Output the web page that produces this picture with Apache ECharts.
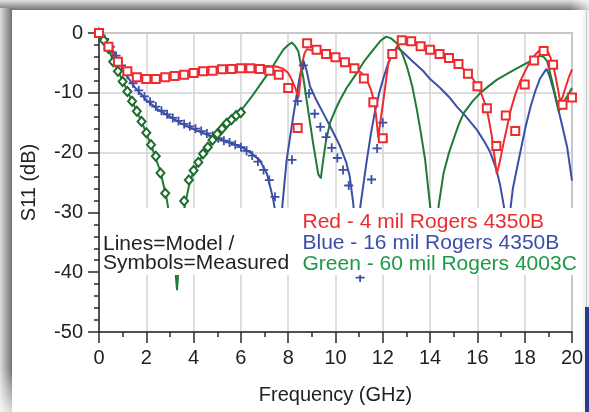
<!DOCTYPE html>
<html><head><meta charset="utf-8">
<script src="https://cdn.jsdelivr.net/npm/echarts@6.0.0/dist/echarts.min.js"></script>
<style>html,body{margin:0;padding:0;background:#fff}#c{width:589px;height:412px}</style>
</head><body><div id="c"></div>
<script>
// ---- data (frequency GHz, S11 dB) ----
const redModel = [[0,0],[0.3,-1.6],[0.6,-3.6],[0.9,-5.4],[1.2,-6.6],[1.5,-7.3],[2.0,-7.7],[2.5,-7.7],[3.0,-7.4],[3.5,-7.0],[4.0,-6.7],[4.5,-6.3],[5.0,-6.0],[5.5,-5.8],[6.0,-5.65],[6.5,-5.55],[7.0,-5.5],[7.5,-5.6],[7.8,-6.0],[8.0,-6.7],[8.15,-7.8],[8.3,-9.2],[8.43,-10.8],[8.5,-8.5],[8.57,-5.3],[8.7,-3.3],[8.8,-2.7],[9.2,-3.1],[9.6,-3.6],[10.0,-4.2],[10.4,-4.9],[10.8,-5.7],[11.1,-6.7],[11.3,-7.6],[11.5,-9.5],[11.64,-11.6],[11.72,-14.0],[11.81,-17.5],[11.9,-14.8],[12.0,-12.0],[12.1,-9.0],[12.24,-4.9],[12.45,-3.3],[12.6,-2.3],[12.8,-1.4],[13.0,-1.2],[13.3,-1.4],[13.7,-2.3],[14.0,-2.9],[14.5,-3.6],[15.0,-4.7],[15.5,-6.3],[15.8,-7.6],[16.0,-8.8],[16.2,-10.5],[16.4,-12.7],[16.6,-17.0],[16.75,-21.5],[16.82,-23.6],[16.95,-21.5],[17.1,-18.5],[17.25,-15.8],[17.4,-13.0],[17.6,-10.3],[17.8,-8.2],[18.0,-6.5],[18.2,-5.0],[18.45,-3.6],[18.6,-3.0],[18.8,-2.7],[19.0,-3.3],[19.1,-4.2],[19.23,-5.8],[19.35,-8.2],[19.5,-11.4],[19.6,-10.8],[19.72,-9.2],[19.85,-7.6],[20.0,-6.1]];

const redMeasured = [[0,0],[0.4,-2.3],[0.8,-4.8],[1.2,-6.4],[1.6,-7.4],[2.0,-7.7],[2.4,-7.7],[2.8,-7.4],[3.2,-7.2],[3.6,-7.0],[4.0,-6.7],[4.4,-6.4],[4.8,-6.3],[5.2,-6.05],[5.6,-6.0],[6.0,-5.9],[6.4,-5.9],[6.8,-6.0],[7.2,-6.3],[7.6,-7.0],[8.0,-9.2],[8.4,-15.9],[8.8,-1.7],[9.2,-2.8],[9.6,-3.5],[10.0,-4.05],[10.4,-4.9],[10.8,-5.9],[11.2,-7.6],[11.6,-11.6],[12.0,-17.6],[12.4,-3.5],[12.8,-1.2],[13.2,-1.4],[13.6,-2.2],[14.0,-2.8],[14.4,-3.5],[14.8,-4.2],[15.2,-5.2],[15.6,-6.8],[16.0,-8.9],[16.4,-12.6],[16.8,-18.9],[17.2,-13.8],[17.6,-16.4],[18.0,-8.6],[18.4,-4.6],[18.8,-3.0],[19.2,-5.3],[19.6,-12.0],[20.0,-10.8]];

const blueModel = [[0,0],[0.3,-1.3],[0.6,-3.0],[0.9,-5.2],[1.2,-7.3],[1.5,-9.0],[2.0,-11.2],[2.5,-12.8],[3.0,-14.0],[3.5,-15.2],[4.0,-16.1],[4.5,-16.9],[5.0,-17.6],[5.5,-18.3],[6.0,-19.0],[6.4,-20.0],[6.8,-21.3],[7.1,-23.5],[7.35,-27.5],[7.55,-32],[7.65,-36],[7.75,-29],[7.93,-21.4],[8.14,-15.8],[8.36,-10.3],[8.5,-7.0],[8.65,-4.7],[8.78,-6.3],[8.92,-8.9],[9.2,-11.3],[9.48,-13.4],[9.8,-15.8],[10.19,-18.9],[10.45,-21.6],[10.6,-23.9],[10.75,-28.5],[10.85,-34],[10.95,-36],[11.05,-29],[11.32,-21.4],[11.5,-16.8],[11.67,-13.1],[11.85,-10.0],[12.03,-7.5],[12.2,-5.4],[12.38,-3.6],[12.6,-2.4],[12.8,-3.0],[13.2,-4.5],[13.72,-6.4],[14.0,-7.7],[14.43,-9.2],[14.8,-10.7],[15.13,-12.3],[15.5,-13.9],[15.98,-16.2],[16.3,-18.2],[16.55,-20.0],[16.8,-22.8],[16.97,-25.6],[17.12,-29],[17.25,-36],[17.38,-30],[17.5,-26],[17.68,-22.5],[18.03,-15.8],[18.25,-12.3],[18.45,-9.7],[18.65,-7.6],[18.8,-6.7],[18.92,-6.0],[19.05,-7.2],[19.23,-9.7],[19.51,-14.2],[19.8,-19.2],[20.0,-24.7]];

const blueMeasured = [[0,0],[0.24,-1.0],[0.48,-2.3],[0.72,-3.8],[0.96,-5.4],[1.2,-7.0],[1.44,-8.4],[1.68,-9.6],[1.92,-10.6],[2.16,-11.5],[2.4,-12.3],[2.64,-13.0],[2.88,-13.6],[3.12,-14.2],[3.36,-14.7],[3.6,-15.2],[3.84,-15.6],[4.08,-16.0],[4.32,-16.4],[4.56,-16.8],[4.8,-17.2],[5.04,-17.6],[5.28,-18.0],[5.52,-18.3],[5.76,-18.7],[6.0,-19.1],[6.24,-19.7],[6.48,-20.5],[6.72,-21.5],[6.96,-22.9],[7.2,-24.6],[7.44,-27.4],[7.68,-32],[7.92,-33],[8.16,-21.2],[8.4,-11.4],[8.64,-5.4],[8.88,-10.1],[9.12,-13.5],[9.36,-15.7],[9.6,-17.4],[9.84,-19.2],[10.08,-20.9],[10.32,-22.9],[10.56,-25.5],[10.8,-31],[11.04,-40.9],[11.28,-32],[11.52,-24.5],[11.76,-19.3],[12.0,-15.0]];

const greenModel = [[0,0],[0.3,-1.8],[0.6,-4.6],[1.0,-8.0],[1.4,-11.4],[1.8,-14.8],[2.2,-18.7],[2.6,-23.2],[2.85,-27.5],[3.0,-31],[3.15,-36],[3.3,-43],[3.45,-34],[3.6,-29.5],[3.8,-25.6],[4.0,-23.1],[4.4,-20.3],[4.82,-18.0],[5.2,-16.1],[5.67,-14.6],[6.0,-13.0],[6.52,-10.3],[7.0,-7.6],[7.22,-6.4],[7.5,-4.6],[7.79,-2.8],[8.0,-2.0],[8.15,-1.6],[8.3,-2.2],[8.43,-3.1],[8.64,-7.5],[8.85,-13.1],[9.06,-18.6],[9.27,-23.6],[9.38,-24.3],[9.48,-21.2],[9.6,-18.0],[9.77,-15.0],[10.0,-12.8],[10.19,-11.2],[10.5,-9.0],[10.9,-6.7],[11.2,-4.8],[11.6,-2.8],[11.9,-1.3],[12.15,-0.6],[12.35,-0.9],[12.59,-1.7],[12.8,-3.2],[13.02,-5.6],[13.25,-9.0],[13.44,-12.8],[13.6,-16.5],[13.79,-21.2],[14.0,-28.9],[14.1,-33],[14.2,-36],[14.3,-32],[14.36,-28.9],[14.57,-23.4],[14.8,-20.0],[14.99,-17.8],[15.2,-15.4],[15.42,-13.4],[15.8,-11.4],[16.12,-10.05],[16.5,-8.8],[16.83,-7.8],[17.4,-6.5],[17.96,-5.3],[18.3,-4.6],[18.67,-3.8],[18.8,-4.0],[18.95,-4.7],[19.16,-8.05],[19.44,-13.1],[19.72,-11.1],[20.0,-9.2]];

const greenMeasured = [[0,0],[0.2,-1.2],[0.4,-2.6],[0.6,-4.8],[0.8,-6.4],[1.0,-8.1],[1.2,-9.8],[1.4,-11.4],[1.6,-13.1],[1.8,-14.8],[2.0,-16.7],[2.2,-18.7],[2.4,-20.6],[2.6,-23.4],[2.8,-26.8],[3.0,-33],[3.2,-38],[3.4,-34],[3.6,-28.1],[3.8,-24.6],[4.0,-23.0],[4.2,-21.6],[4.4,-20.2],[4.6,-19.1],[4.8,-17.9],[5.0,-16.9],[5.2,-16.0],[5.4,-15.1],[5.6,-14.5],[5.8,-13.8],[6.0,-13.3]];

const legendLines = ['Red - 4 mil Rogers 4350B','Blue - 16 mil Rogers 4350B','Green - 60 mil Rogers 4003C'];
const noteLines = ['Lines=Model /','Symbols=Measured'];

// ---- styles ----
const FONT = '"Liberation Sans", Arial, Helvetica, sans-serif';
const RED = '#ee2b2f', BLUE = '#3c4fa6', GREEN = '#1e7b36';
const RED_T = '#ee2b2f', BLUE_T = '#3a4ea8', GREEN_T = '#1c9a47';
const PLUS = 'path://M4,0H6V4H10V6H6V10H4V6H0V4H4Z';

const chart = echarts.init(document.getElementById('c'), null, {renderer:'canvas'});
const axisCol = '#2a2a2a';
function lineSeries(data, color){
  return {type:'line', data, showSymbol:false, symbol:'none', smooth:false, animation:false,
    lineStyle:{color, width:2}, z:3};
}
const graphics = [
  {type:'rect', z:0, silent:true, shape:{x:0,y:0,width:589,height:10},
   style:{fill:new echarts.graphic.LinearGradient(0,0,0,1,[{offset:0,color:'#e2e2e2'},{offset:1,color:'#737373'}])}},
  {type:'rect', z:0, silent:true, shape:{x:570,y:0,width:19,height:10},
   style:{fill:new echarts.graphic.LinearGradient(0,0,1,0,[{offset:0,color:'rgba(255,255,255,0)'},{offset:1,color:'rgba(255,255,255,0.7)'}])}},
  {type:'rect', z:0, silent:true, shape:{x:0,y:8,width:12,height:404},
   style:{fill:new echarts.graphic.LinearGradient(0,0,1,0,[{offset:0,color:'#dedede'},{offset:1,color:'#737373'}])}},
  {type:'rect', z:0, silent:true, shape:{x:0,y:370,width:12,height:42},
   style:{fill:new echarts.graphic.LinearGradient(0,0,0,1,[{offset:0,color:'rgba(255,255,255,0)'},{offset:1,color:'rgba(255,255,255,0.75)'}])}},
  {type:'rect', z:0, silent:true, shape:{x:583,y:10,width:6,height:402}, style:{fill:'#f3f3f3'}},
  {type:'line', z:0, silent:true, shape:{x1:586.5,y1:10,x2:586.5,y2:308}, style:{stroke:'#c4c4c4', lineWidth:1}},
  {type:'rect', z:0, silent:true, shape:{x:585,y:307,width:4,height:105}, style:{fill:'#2a3b8e'}},
  {type:'rect', z:100, silent:true, shape:{x:100.5,y:208,width:482,height:67}, style:{fill:'#ffffff'}}
];
noteLines.forEach((t,i)=>graphics.push({type:'text', z:101, silent:true,
  style:{text:t, x:103, y:234 + i*19, fontSize:21, fontFamily:FONT, fill:'#222', verticalAlign:'top', textAlign:'left'}}));
const legCols = [RED_T, BLUE_T, GREEN_T];
legendLines.forEach((t,i)=>graphics.push({type:'text', z:101, silent:true,
  style:{text:t, x:302.5, y:212 + i*20.8, fontSize:21, fontFamily:FONT, fill:legCols[i], verticalAlign:'top', textAlign:'left'}}));

chart.setOption({
  animation:false,
  backgroundColor:'#ffffff',
  grid:{left:99, right:17, top:33, bottom:80, show:true, borderColor:'#8a8a8a', borderWidth:1.5, backgroundColor:'#fff', containLabel:false},
  xAxis:{type:'value', min:0, max:20, interval:2,
    name:'Frequency (GHz)', nameLocation:'middle', nameGap:53,
    nameTextStyle:{fontSize:20, fontFamily:FONT, color:'#222', verticalAlign:'top'},
    axisLine:{show:true, onZero:false, lineStyle:{color:axisCol, width:1.5}},
    axisTick:{show:true, inside:false, length:11, lineStyle:{color:axisCol, width:1.5}},
    minorTick:{show:true, splitNumber:2, length:5, lineStyle:{color:axisCol, width:1.5}},
    splitLine:{show:true, lineStyle:{color:'#d2d2d2', width:1.5}},
    axisLabel:{fontSize:20, fontFamily:FONT, color:'#222', margin:16}},
  yAxis:{type:'value', min:-50, max:0, interval:10,
    name:'S11 (dB)', nameLocation:'middle', nameGap:60,
    nameTextStyle:{fontSize:20, fontFamily:FONT, color:'#222'},
    axisLine:{show:true, onZero:false, lineStyle:{color:axisCol, width:1.5}},
    axisTick:{show:true, inside:false, length:11, lineStyle:{color:axisCol, width:1.5}},
    minorTick:{show:true, splitNumber:5, length:5, lineStyle:{color:axisCol, width:1.5}},
    splitLine:{show:true, lineStyle:{color:'#d2d2d2', width:1.5}},
    axisLabel:{fontSize:20, fontFamily:FONT, color:'#222', margin:16}},
  series:[
    lineSeries(blueModel, BLUE),
    lineSeries(greenModel, GREEN),
    lineSeries(redModel, RED),
    {type:'scatter', data:blueMeasured, symbol:PLUS, symbolSize:9, z:4,
      itemStyle:{color:BLUE, opacity:1}},
    {type:'scatter', data:greenMeasured, symbol:'emptyDiamond', symbolSize:[8,9], z:4,
      itemStyle:{color:'#1d6b2d', borderColor:'#1d6b2d', borderWidth:1.8, opacity:1}},
    {type:'scatter', data:redMeasured, symbol:'emptyRect', symbolSize:8, z:4,
      itemStyle:{color:RED, borderColor:RED, borderWidth:1.6, opacity:1}}
  ],
  graphic:graphics
});
</script></body></html>
